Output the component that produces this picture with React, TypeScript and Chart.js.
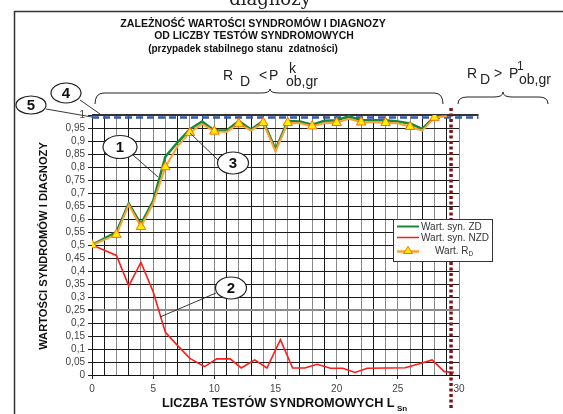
import React, { useEffect, useRef } from 'react';
import { Chart, registerables } from 'chart.js';

Chart.register(...registerables);

// ---- data ----
const ZD_X = [0, 2, 3, 4, 5, 6, 7, 8, 9, 10, 11, 12, 13, 14, 15, 16, 17, 18, 19, 20, 21, 22, 23, 24, 25, 26, 27, 28, 29];
const ZD_Y = [0.5, 0.55, 0.66, 0.58, 0.67, 0.84, 0.895, 0.945, 0.975, 0.94, 0.94, 0.977, 0.944, 0.977, 0.867, 0.977, 0.975, 0.963, 0.978, 0.98, 0.995, 0.98, 0.98, 0.98, 0.975, 0.967, 0.947, 0.993, 0.998];
const RD_X = [0, 2, 3, 4, 5, 6, 7, 8, 9, 10, 11, 12, 13, 14, 15, 16, 17, 18, 19, 20, 21, 22, 23, 24, 25, 26, 27, 28, 29];
const RD_Y = [0.5, 0.54, 0.655, 0.57, 0.66, 0.8, 0.88, 0.932, 0.965, 0.937, 0.935, 0.967, 0.94, 0.97, 0.86, 0.97, 0.968, 0.957, 0.968, 0.97, 0.985, 0.972, 0.972, 0.97, 0.968, 0.955, 0.94, 0.99, 0.995];
const NZD_X = [0, 2, 3, 4, 5, 6, 7, 8, 9.2, 10.2, 11.3, 12.2, 13.3, 14.3, 15.4, 16.4, 17.4, 18.4, 19.5, 20.5, 21.5, 22.5, 25.6, 26.7, 27.8, 28.8, 29.6];
const NZD_Y = [0.5, 0.46, 0.343, 0.433, 0.32, 0.164, 0.113, 0.064, 0.032, 0.062, 0.062, 0.027, 0.058, 0.027, 0.136, 0.027, 0.027, 0.041, 0.026, 0.026, 0.01, 0.026, 0.028, 0.042, 0.058, 0.013, 0.01];

const SERIES_NAMES = ['Wart. syn. ZD', 'Wart. syn. NZD', 'Wart. R'];
const LIMIT_LINE_X = [0, 31.6];
const LIMIT_P = 0.99; // blue dashed line (5)
const LIMIT_ONE = 1; // top line (4)
const BOUND_X = 29.35; // dark red dotted border
const BOUND_Y = [1.027, -0.13];
const X_TICK_STEP = 5;

const TITLE_LINES = [
  'ZALEŻNOŚĆ WARTOŚCI SYNDROMÓW I DIAGNOZY',
  'OD LICZBY TESTÓW SYNDROMOWYCH',
  '(przypadek stabilnego stanu  zdatności)',
];
const Y_TITLE = 'WARTOŚCI SYNDROMÓW I DIAGNOZY';
const X_TITLE = 'LICZBA TESTÓW SYNDROMOWYCH L';

const FONT = "'Liberation Sans', Arial, Helvetica, sans-serif";

const pts = (xs: number[], ys: number[]) => xs.map((x, i) => ({ x, y: ys[i] }));

function fitText(ctx: CanvasRenderingContext2D, text: string, x: number, y: number, width: number, weight: string, align: CanvasTextAlign = 'center') {
  let size = 10;
  ctx.font = `${weight} ${size}px ${FONT}`;
  const w = ctx.measureText(text).width;
  size = (size * width) / w;
  ctx.font = `${weight} ${size}px ${FONT}`;
  ctx.textAlign = align;
  ctx.fillText(text, x, y);
}

function brace(ctx: CanvasRenderingContext2D, x1: number, x2: number, xm: number, y: number, h: number, tip: number) {
  const r = 9;
  ctx.beginPath();
  ctx.moveTo(x1, y);
  ctx.quadraticCurveTo(x1, y - h, x1 + r, y - h);
  ctx.lineTo(xm - r, y - h);
  ctx.quadraticCurveTo(xm, y - h, xm, y - h - tip);
  ctx.quadraticCurveTo(xm, y - h, xm + r, y - h);
  ctx.lineTo(x2 - r, y - h);
  ctx.quadraticCurveTo(x2, y - h, x2, y);
  ctx.stroke();
}

function bubble(ctx: CanvasRenderingContext2D, label: string, cx: number, cy: number, rx: number, ry: number, lx1: number, ly1: number, lx2: number, ly2: number) {
  ctx.save();
  ctx.strokeStyle = '#222';
  ctx.lineWidth = 0.9;
  ctx.beginPath();
  ctx.moveTo(lx1, ly1);
  ctx.lineTo(lx2, ly2);
  ctx.stroke();
  ctx.beginPath();
  ctx.ellipse(cx, cy, rx, ry, 0, 0, Math.PI * 2);
  ctx.fillStyle = '#fff';
  ctx.fill();
  ctx.lineWidth = 1.2;
  ctx.stroke();
  ctx.fillStyle = '#111';
  ctx.font = `bold 15px ${FONT}`;
  ctx.textAlign = 'center';
  ctx.textBaseline = 'middle';
  ctx.fillText(label, cx, cy + 1);
  ctx.restore();
}

const extras = {
  id: 'extras',
  afterDraw(chart: any) {
    const ctx: CanvasRenderingContext2D = chart.ctx;
    ctx.save();
    // figure frame
    ctx.strokeStyle = '#333';
    ctx.lineWidth = 1.5;
    ctx.beginPath();
    ctx.moveTo(14.5, 414);
    ctx.lineTo(14.5, 11.5);
    ctx.lineTo(563, 11.5);
    ctx.stroke();

    // cut-off text above the frame
    ctx.fillStyle = '#222';
    ctx.font = `18px 'DejaVu Serif', 'Liberation Serif', serif`;
    ctx.textAlign = 'center';
    ctx.textBaseline = 'alphabetic';
    ctx.fillText('diagnozy', 270, 5);

    // title
    ctx.fillStyle = '#111';
    ctx.textBaseline = 'middle';
    fitText(ctx, TITLE_LINES[0], 253, 24, 266, 'bold');
    fitText(ctx, TITLE_LINES[1], 254, 36.5, 200, 'bold');
    fitText(ctx, TITLE_LINES[2], 243, 49, 190, 'bold');

    // axis titles
    fitText(ctx, X_TITLE, 162, 403, 233, 'bold', 'left');
    ctx.font = `bold 8px ${FONT}`;
    ctx.textAlign = 'left';
    ctx.fillText('Sn', 397, 409);
    ctx.save();
    ctx.translate(44, 246);
    ctx.rotate(-Math.PI / 2);
    fitText(ctx, Y_TITLE, 0, 0, 208, 'bold');
    ctx.restore();

    // braces
    ctx.strokeStyle = '#222';
    ctx.lineWidth = 1;
    brace(ctx, 95, 443, 270, 104, 11, 4);
    brace(ctx, 458, 548, 503, 104, 7, 5);

    // brace labels
    ctx.fillStyle = '#222';
    ctx.textBaseline = 'alphabetic';
    ctx.textAlign = 'left';
    ctx.font = `14px ${FONT}`;
    ctx.fillText('R', 223, 80);
    ctx.fillText('D', 240, 86);
    ctx.fillText('<', 259, 80);
    ctx.fillText('P', 269, 80);
    ctx.fillText('k', 289, 73);
    ctx.fillText('ob,gr', 286, 86);

    ctx.fillText('R', 467, 78);
    ctx.fillText('D', 480, 84);
    ctx.fillText('>', 494, 78);
    ctx.fillText('P', 509, 78);
    ctx.font = `12px ${FONT}`;
    ctx.fillText('1', 517, 70);
    ctx.font = `14px ${FONT}`;
    ctx.fillText('ob,gr', 519, 84);

    // numbered callouts
    bubble(ctx, '4', 66, 93, 15, 10, 80, 100, 100, 114);
    bubble(ctx, '5', 31, 105, 15, 9, 46, 109, 92, 117);
    bubble(ctx, '1', 120, 147, 17, 11.5, 133, 155, 158, 177);
    bubble(ctx, '3', 233, 163, 15.5, 11, 218, 160, 190, 133);
    bubble(ctx, '2', 231, 288, 15.5, 11, 216, 293, 160, 317);

    // legend
    const lx = 393.5, ly = 219.5, lw = 99, lh = 42;
    ctx.fillStyle = '#fff';
    ctx.fillRect(lx, ly, lw, lh);
    ctx.strokeStyle = '#333';
    ctx.lineWidth = 1;
    ctx.strokeRect(lx, ly, lw, lh);
    const rows = [
      { y: 226.5, color: '#168a3a', w: 2 },
      { y: 237.5, color: '#ff1a1a', w: 1.5 },
      { y: 251.5, color: '#ffa030', w: 2.5 },
    ];
    rows.forEach((r) => {
      ctx.strokeStyle = r.color;
      ctx.lineWidth = r.w;
      ctx.beginPath();
      ctx.moveTo(397, r.y);
      ctx.lineTo(419, r.y);
      ctx.stroke();
    });
    // triangle in legend
    ctx.beginPath();
    ctx.moveTo(408, 246.5);
    ctx.lineTo(412.5, 253.5);
    ctx.lineTo(403.5, 253.5);
    ctx.closePath();
    ctx.fillStyle = '#ffee00';
    ctx.fill();
    ctx.strokeStyle = '#ff6a00';
    ctx.lineWidth = 1;
    ctx.stroke();

    ctx.fillStyle = '#333';
    ctx.font = `10px ${FONT}`;
    ctx.textBaseline = 'middle';
    ctx.textAlign = 'left';
    ctx.fillText(SERIES_NAMES[0], 421, 227);
    ctx.fillText(SERIES_NAMES[1], 421, 238);
    ctx.fillText(SERIES_NAMES[2], 435, 251);
    const wR = ctx.measureText(SERIES_NAMES[2]).width;
    ctx.font = `6.5px ${FONT}`;
    ctx.fillText('D', 435 + wR, 254);
    ctx.restore();
  },
};

export default function App() {
  const ref = useRef<HTMLCanvasElement | null>(null);
  useEffect(() => {
    if (!ref.current) return;
    const chart = new Chart(ref.current, {
      type: 'line',
      data: {
        datasets: [
          {
            label: 'R_D',
            data: pts(RD_X, RD_Y),
            borderColor: '#ffa030',
            backgroundColor: '#ffee00',
            borderWidth: 2,
            pointStyle: 'triangle',
            pointRadius: (c: any) => (c.raw && c.raw.x % 2 === 0 ? 5.5 : 0),
            pointBackgroundColor: '#ffee00',
            pointBorderColor: '#ff6a00',
            pointBorderWidth: 1,
            order: 0,
          },
          {
            label: 'ZD',
            data: pts(ZD_X, ZD_Y),
            borderColor: '#168a3a',
            borderWidth: 2.5,
            pointRadius: 0,
            order: 1,
          },
          {
            label: 'bound',
            data: BOUND_Y.map((y) => ({ x: BOUND_X, y })),
            borderColor: '#7d1414',
            borderWidth: 3.5,
            borderDash: [3, 2.5],
            pointRadius: 0,
            clip: false as any,
            order: 2,
          },
          {
            label: 'NZD',
            data: pts(NZD_X, NZD_Y),
            borderColor: '#ff1a1a',
            borderWidth: 1.6,
            pointRadius: 0,
            order: 3,
          },
          {
            label: 'P',
            data: LIMIT_LINE_X.map((x) => ({ x, y: LIMIT_P })),
            borderColor: '#3558b0',
            borderWidth: 2.5,
            borderDash: [7, 4],
            pointRadius: 0,
            clip: false as any,
            order: 4,
          },
          {
            label: 'one',
            data: LIMIT_LINE_X.map((x) => ({ x, y: LIMIT_ONE })),
            borderColor: '#333',
            borderWidth: 2,
            pointRadius: 0,
            clip: false as any,
            order: 5,
          },
        ],
      },
      options: {
        responsive: false,
        animation: false,
        devicePixelRatio: 1,
        layout: { padding: { left: 50, right: 104, top: 115, bottom: 0 } },
        plugins: { legend: { display: false }, tooltip: { enabled: false }, title: { display: false } },
        scales: {
          x: {
            type: 'linear',
            min: 0,
            max: 30,
            afterFit: (s: any) => { s.height = 39; },
            ticks: {
              stepSize: 1,
              autoSkip: false,
              maxRotation: 0,
              padding: 4,
              color: '#444',
              font: { family: FONT, size: 10 },
              callback: (v: any) => (Number(v) % X_TICK_STEP === 0 ? String(v) : ''),
            },
            grid: {
              color: (c: any) => (c.tick && (c.tick.value % 2 === 0 || c.tick.value % 5 === 0) ? '#8a8a8a' : '#1a1a1a'),
              lineWidth: 1,
              tickLength: 4,
              tickColor: (c: any) => (c.tick && c.tick.value % X_TICK_STEP === 0 ? '#222' : 'rgba(0,0,0,0)'),
            },
            border: { display: true, color: '#111', width: 1 },
          },
          y: {
            type: 'linear',
            min: 0,
            max: 1,
            afterFit: (s: any) => { s.width = 42; },
            ticks: {
              stepSize: 0.05,
              autoSkip: false,
              padding: 3,
              color: '#444',
              font: { family: FONT, size: 10 },
              callback: (v: any) => String(Math.round(Number(v) * 100) / 100).replace('.', ','),
            },
            grid: {
              color: (c: any) => (c.tick && Math.abs(c.tick.value - 0.25) < 1e-6 ? '#8a8a8a' : '#1a1a1a'),
              lineWidth: (c: any) => (c.tick && Math.abs(c.tick.value - 0.25) < 1e-6 ? 2 : 1),
              tickLength: 4,
              tickColor: '#222',
            },
            border: { display: true, color: '#111', width: 1 },
          },
        },
      },
      plugins: [extras],
    } as any);
    return () => chart.destroy();
  }, []);
  return (
    <div style={{ position: 'absolute', left: 0, top: 0, width: 563, height: 414, background: '#fff' }}>
      <canvas ref={ref} width={563} height={414} style={{ display: 'block' }} />
    </div>
  );
}
